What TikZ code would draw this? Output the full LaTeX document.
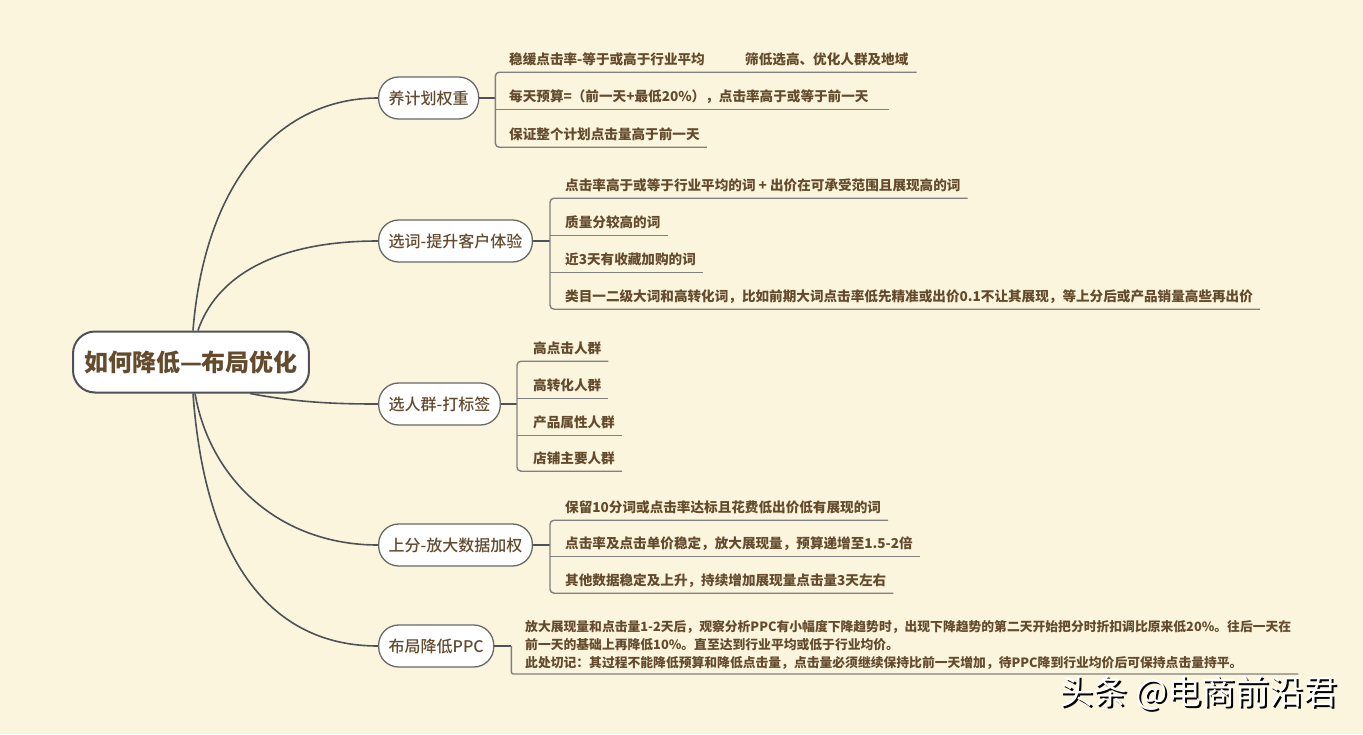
\documentclass[tikz,border=0pt]{standalone}
\usepackage{fontspec}
\setmainfont{Noto Sans CJK SC}
\newfontfamily\topicfont{Noto Sans CJK SC Medium}
\definecolor{bg}{RGB}{251,245,221}
\definecolor{txt}{RGB}{100,75,46}
\definecolor{curve}{RGB}{78,82,88}
\definecolor{ul}{RGB}{128,128,128}
\definecolor{nodeb}{RGB}{105,105,105}
\begin{document}
\begin{tikzpicture}[x=1pt,y=-1pt,
  root/.style={draw=curve, line width=2pt, fill=white, rounded corners=22pt, minimum height=61pt, inner xsep=11pt, inner ysep=0pt, font=\fontsize{24}{28}\selectfont\bfseries, text=txt},
  topic/.style={draw=nodeb, line width=1.3pt, fill=white, rounded corners=20pt, minimum height=42pt, inner xsep=10pt, inner ysep=0pt, anchor=west, font=\topicfont\fontsize{16}{19}\selectfont, text=txt},
  item/.style={inner xsep=0pt, inner ysep=0pt, anchor=base west, text height=10pt, text depth=8pt, font=\fontsize{13.6}{16}\selectfont\bfseries, text=txt},
  para/.style={inner sep=0pt, anchor=south west, align=left, font=\fontsize{12.8}{18}\selectfont\bfseries, text=txt},
  link/.style={draw=curve, line width=1.6pt},
  uline/.style={draw=ul, line width=1.4pt},
  wm/.style={inner sep=0pt, font=\fontsize{34}{38}\selectfont},
]
\fill[bg] (0,0) rectangle (1363,734);
\useasboundingbox (0,0) rectangle (1363,734);

% root and topics
\node[root] (root) at (191,362) {如何降低—布局优化};
\node[topic] (t1) at (378,98) {养计划权重};
\node[topic] (t2) at (378,241) {选词-提升客户体验};
\node[topic] (t3) at (378,404) {选人群-打标签};
\node[topic] (t4) at (378,545) {上分-放大数据加权};
\node[topic] (t5) at (378,646) {布局降低PPC};

% curves from root
\draw[link] ([xshift=2pt]root.north) .. controls (205,180) and (280,98) .. (t1.west);
\draw[link] ([xshift=7pt]root.north) .. controls (215,280) and (270,241) .. (t2.west);
\draw[link] ([xshift=59pt]root.south) .. controls (300,403) and (340,404) .. (t3.west);
\draw[link] ([xshift=4pt]root.south) .. controls (210,480) and (280,545) .. (t4.west);
\draw[link] ([xshift=2pt]root.south) .. controls (205,560) and (270,646) .. (t5.west);

% group 1
\draw[link, line width=1.3pt] (t1.east) -- ++(16,0) coordinate (b1);
\node[item] (a1) at (509,64) {稳缓点击率-等于或高于行业平均};
\node[item] (a1b) at (745,64) {筛低选高、优化人群及地域};
\node[item] (a2) at (509,101) {每天预算=（前一天+最低20\%），点击率高于或等于前一天};
\node[item] (a3) at (509,139) {保证整个计划点击量高于前一天};
\draw[uline, rounded corners=4pt] ([xshift=8pt]a1b.south east) -- (a1.south west -| b1) -- (a3.south west -| b1) -- ([xshift=7pt]a3.south east);
\draw[uline] (a2.south west -| b1) -- ([xshift=20pt]a2.south east);

% group 2
\draw[link, line width=1.3pt] (t2.east) -- ++(17,0) coordinate (b2);
\node[item] (c1) at (565,190) {点击率高于或等于行业平均的词 + 出价在可承受范围且展现高的词};
\node[item] (c2) at (565,227) {质量分较高的词};
\node[item] (c3) at (565,264) {近3天有收藏加购的词};
\node[item] (c4) at (565,301) {类目一二级大词和高转化词，比如前期大词点击率低先精准或出价0.1不让其展现，等上分后或产品销量高些再出价};
\draw[uline, rounded corners=4pt] ([xshift=7pt]c1.south east) -- (c1.south west -| b2) -- (c4.south west -| b2) -- ([xshift=7pt]c4.south east);
\draw[uline] (c2.south west -| b2) -- ([xshift=7pt]c2.south east);
\draw[uline] (c3.south west -| b2) -- ([xshift=7pt]c3.south east);

% group 3
\draw[link, line width=1.3pt] (t3.east) -- ++(16,0) coordinate (b3);
\node[item] (d1) at (533,353) {高点击人群};
\node[item] (d2) at (533,390) {高转化人群};
\node[item] (d3) at (533,427) {产品属性人群};
\node[item] (d4) at (533,463) {店铺主要人群};
\draw[uline, rounded corners=4pt] ([xshift=7pt]d1.south east) -- (d1.south west -| b3) -- (d4.south west -| b3) -- ([xshift=7pt]d4.south east);
\draw[uline] (d2.south west -| b3) -- ([xshift=7pt]d2.south east);
\draw[uline] (d3.south west -| b3) -- ([xshift=7pt]d3.south east);

% group 4
\draw[link, line width=1.3pt] (t4.east) -- ++(17,0) coordinate (b4);
\node[item] (e1) at (565,512) {保留10分词或点击率达标且花费低出价低有展现的词};
\node[item] (e2) at (565,548) {点击率及点击单价稳定，放大展现量，预算递增至1.5-2倍};
\node[item] (e3) at (565,585) {其他数据稳定及上升，持续增加展现量点击量3天左右};
\draw[uline, rounded corners=4pt] ([xshift=7pt]e1.south east) -- (e1.south west -| b4) -- (e3.south west -| b4) -- ([xshift=7pt]e3.south east);
\draw[uline] (e2.south west -| b4) -- ([xshift=7pt]e2.south east);

% group 5
\draw[link, line width=1.3pt] (t5.east) -- ++(17,0) coordinate (b5);
\node[para] (p5) at (525,674) {放大展现量和点击量1-2天后，观察分析PPC有小幅度下降趋势时，出现下降趋势的第二天开始把分时折扣调比原来低20\%。往后一天在\\前一天的基础上再降低10\%。直至达到行业平均或低于行业均价。\\此处切记：其过程不能降低预算和降低点击量，点击量必须继续保持比前一天增加，待PPC降到行业均价后可保持点击量持平。\rule[-6pt]{0pt}{6pt}};
\draw[uline, rounded corners=2pt] (b5) -- (p5.south west -| b5) -- ([xshift=7pt]p5.south east);

% watermark
\node[wm, text=black] (wms) at (1200.5,695) {头条 @电商前沿君};
\node[wm, text=white] (wmk) at (1198.5,693) {头条 @电商前沿君};
\end{tikzpicture}
\end{document}
